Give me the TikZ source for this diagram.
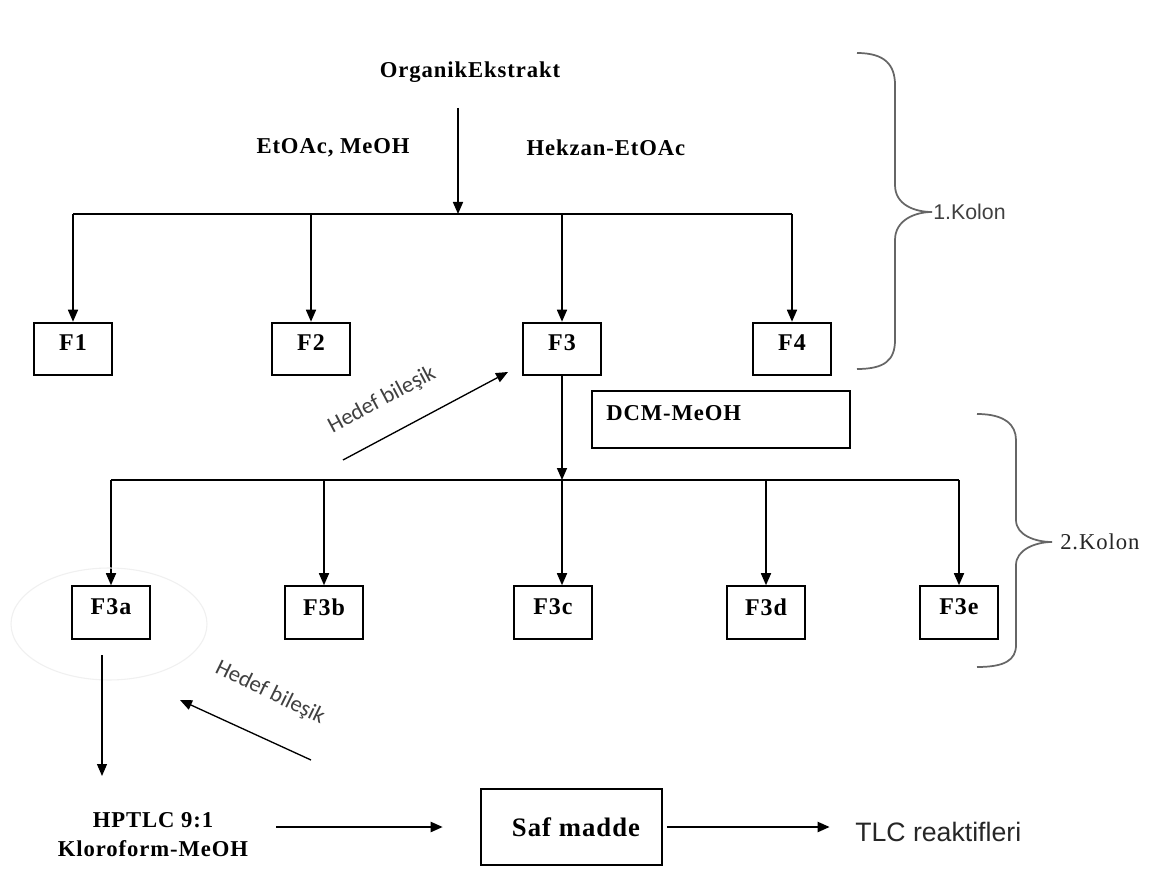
\documentclass[tikz,border=0pt]{standalone}
\usepackage{fontspec}
\setmainfont{Liberation Serif}
\newfontfamily\tb{Liberation Serif}[LetterSpace=4]
\newfontfamily\ts{Liberation Sans}
\newfontfamily\tc{Carlito}
\usetikzlibrary{arrows.meta}
\begin{document}
\begin{tikzpicture}[x=0.75pt,y=-0.75pt,
  arr/.style={line width=1.2pt, -{Triangle[length=9pt,width=7.5pt]}},
  ln/.style={line width=1.2pt},
  fbox/.style={draw, line width=1.4pt, minimum width=58.5pt, minimum height=39.5pt, inner sep=0pt},
  blbl/.style={font=\tb\bfseries\fontsize{18}{21}\selectfont, inner sep=0pt},
  tlbl/.style={font=\tb\bfseries\fontsize{17}{22}\selectfont, inner sep=0pt, align=center},
  brc/.style={draw=black!60, line width=1.3pt},
  hedef/.style={font=\tc\fontsize{17}{20}\selectfont, text=black!75, inner sep=0pt},
]
\useasboundingbox[fill=white] (0,0) rectangle (1161,870);

% top texts
\node[tlbl] (org) at (470,72) {OrganikEkstrakt};
\node[tlbl] (s1) at (333,148) {EtOAc, MeOH};
\node[tlbl] (s2) at (606,148) {Hekzan-EtOAc};

% first column boxes
\node[fbox] (F1) at (73,349) {};
\node[fbox] (F2) at (311,349) {};
\node[fbox] (F3) at (562,349) {};
\node[fbox] (F4) at (792,349) {};
\node[blbl] (F1t) at (73,343) {F1};
\node[blbl] (F2t) at (311,343) {F2};
\node[blbl] (F3t) at (562,343) {F3};
\node[blbl] (F4t) at (792,343) {F4};

\coordinate (t1) at (458,108);
\coordinate (j1) at (458,214);
\draw[arr] (t1) -- (j1);
\draw[ln] (F1.north |- j1) -- (F4.north |- j1);
\foreach \n in {F1,F2,F3,F4} \draw[arr] (\n.north |- j1) -- (\n.north);

% DCM-MeOH box
\node[draw, line width=1.4pt, minimum width=193.5pt, minimum height=42.75pt, inner sep=0pt] (dcm) at (721,419.5) {};
\node[blbl, font=\tb\bfseries\fontsize{17}{20}\selectfont, anchor=west] (dcmt) at (606,413) {DCM-MeOH};

% second column
\coordinate (j2) at (562,480);
\draw[arr] (F3.south) -- (j2);
\node[fbox] (F3a) at (111,612.5) {};
\node[fbox] (F3b) at (324,612.5) {};
\node[fbox] (F3c) at (553,612.5) {};
\node[fbox] (F3d) at (766,612.5) {};
\node[fbox] (F3e) at (959,612.5) {};
\node[blbl] (F3at) at (111,607) {F3a};
\node[blbl] (F3bt) at (324,607) {F3b};
\node[blbl] (F3ct) at (553,607) {F3c};
\node[blbl] (F3dt) at (766,607) {F3d};
\node[blbl] (F3et) at (959,607) {F3e};
\draw[ln] (F3a.north |- j2) -- (F3e.north |- j2);
\foreach \n in {F3a,F3b,F3d,F3e} \draw[arr] (\n.north |- j2) -- (\n.north);
\draw[arr] (j2) -- (j2 |- F3c.north);

% faint ellipse around F3a
\draw[black!6, line width=0.8pt] (109,624) ellipse [x radius=98, y radius=56];

% braces
\draw[brc] (857,53) .. controls (885,53) and (895,65) .. (895,85) -- (895,185)
  .. controls (895,205) and (915,212) .. (932,212)
  .. controls (915,212) and (895,220) .. (895,240) -- (895,340)
  .. controls (895,360) and (885,369) .. (857,369);
\node[font=\ts\fontsize{16}{19}\selectfont, text=black!75, anchor=west, inner sep=0pt] (k1) at (933,212) {1.Kolon};

\draw[brc] (977,414) .. controls (1005,414) and (1016,425) .. (1016,440) -- (1016,520)
  .. controls (1016,535) and (1035,542) .. (1052,542)
  .. controls (1035,542) and (1016,550) .. (1016,565) -- (1016,645)
  .. controls (1016,660) and (1005,667) .. (977,667);
\node[font=\tb\fontsize{17}{20}\selectfont, text=black!85, anchor=west, inner sep=0pt] (k2) at (1060,542) {2.Kolon};

% Hedef bilesik arrows
\coordinate (h1s) at (343,460);
\coordinate (h1e) at (508,372);
\draw[arr, line width=1pt] (h1s) -- (h1e);
\node[hedef, rotate=28] (h1t) at (382,400) {Hedef bileşik};

\coordinate (h2s) at (311,760);
\coordinate (h2e) at (180,700);
\draw[arr, line width=1pt] (h2s) -- (h2e);
\node[hedef, rotate=-26] (h2t) at (270,693) {Hedef bileşik};

% bottom row
\node[tlbl] (hp) at (153,834.5) {HPTLC 9:1\\Kloroform-MeOH};
\coordinate (a1) at (102,655);
\coordinate (a2) at (102,776);
\draw[line width=0.9pt, -{Triangle[length=9pt,width=7.5pt]}] (a1) -- (a2);

\node[draw, line width=1.4pt, minimum width=135.75pt, minimum height=57pt, inner sep=0pt] (saf) at (571.5,827) {};
\node[font=\tb\bfseries\fontsize{20}{23}\selectfont, inner sep=0pt] (saft) at (576,827) {Saf madde};
\draw[arr, line width=1.6pt] ([xshift=21pt]hp.east |- saf.center) -- ([xshift=-28pt]saf.west);

\node[font=\ts\fontsize{20}{23}\selectfont, text=black!85, anchor=west, inner sep=0pt] (tlc) at (855,832) {TLC reaktifleri};
\draw[arr, line width=1.6pt] ([xshift=3pt]saf.east) -- ([xshift=-19pt]tlc.west |- saf.center);
\end{tikzpicture}
\end{document}
